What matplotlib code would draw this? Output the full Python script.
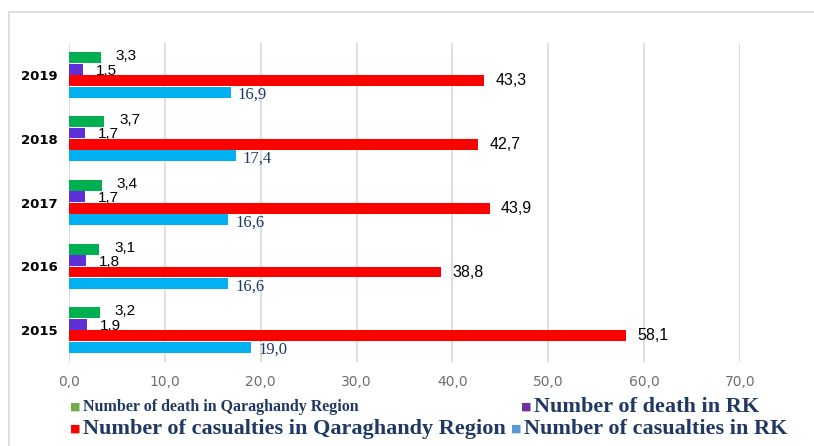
import matplotlib
matplotlib.use('Agg')
import matplotlib.pyplot as plt
from matplotlib.patches import Rectangle
import numpy as np

# data
years = ['2015', '2016', '2017', '2018', '2019']
death_region = [3.2, 3.1, 3.4, 3.7, 3.3]
death_rk = [1.9, 1.8, 1.7, 1.7, 1.5]
casualties_region = [58.1, 38.8, 43.9, 42.7, 43.3]
casualties_rk = [19.0, 16.6, 16.6, 17.4, 16.9]
xticks = [0, 10, 20, 30, 40, 50, 60, 70]


def fmt(v):
    return '{:.1f}'.format(v).replace('.', ',')


fig = plt.figure(figsize=(8.14, 4.46), dpi=100)
ax = fig.add_axes([69 / 814, 1 - 362 / 446, (740 - 69) / 814, 319 / 446])

y = np.arange(len(years))
h = 0.18
# values, bar colour, slot offset, label colour, label font, label size, label shift (pt)
series = [
    (death_region, '#00B050', 1.5, 'black', 'Liberation Sans', 11, (11, 1)),
    (death_rk, '#5F2FD8', 0.5, 'black', 'Liberation Sans', 11, (9, -1)),
    (casualties_region, '#FF0000', -0.5, 'black', 'Liberation Sans', 11.5, (8, 0)),
    (casualties_rk, '#00B0F0', -1.5, '#1F3864', 'Liberation Serif', 12, (5, -2)),
]
for vals, color, off, lcolor, lfont, lsize, shift in series:
    ypos = y + off * h
    ax.barh(ypos, vals, height=h * 0.95, color=color, zorder=3)
    for yy, v in zip(ypos, vals):
        ax.annotate(fmt(v), (v, yy), xytext=shift, textcoords='offset points',
                    va='center', ha='left', color=lcolor, family=lfont, fontsize=lsize)

ax.set_xlim(0, 70)
ax.set_ylim(-0.5, 4.5)
ax.set_xticks(xticks)
ax.set_xticklabels([fmt(t) for t in xticks], color='#6E6E6E', fontsize=10)
ax.set_yticks(y)
ax.set_yticklabels(years, fontweight='bold', fontsize=9.5)
ax.tick_params(axis='both', length=0)
ax.tick_params(axis='x', pad=9)
ax.tick_params(axis='y', pad=8)
ax.grid(axis='x', color='#D9D9D9', linewidth=1.2, zorder=0)
for s in ax.spines.values():
    s.set_visible(False)

# outer frame of the chart area
fig.add_artist(Rectangle((9 / 814, -0.1), 1.2, 1.1 - 12 / 446, transform=fig.transFigure,
                         fill=False, edgecolor='#D9D9D9', linewidth=1.2))

# legend built by hand, entries have different font sizes in the reference
navy = '#1F3864'
entries = [
    (75, 407, '#70AD47', 'Number of death in Qaraghandy Region', 11.5),
    (526, 407, '#7030A0', 'Number of death in RK', 16),
    (75, 429, '#FF0000', 'Number of casualties in Qaraghandy Region', 16),
    (516, 429, '#5B9BD5', 'Number of casualties in RK', 16),
]
for px, py, mcolor, label, size in entries:
    fig.text(px / 814, 1 - py / 446, '\u25A0', color=mcolor, fontsize=8,
             ha='center', va='center', family='DejaVu Sans')
    fig.text((px + 8) / 814, 1 - py / 446, label, color=navy, fontsize=size,
             fontweight='bold', family='Liberation Serif', ha='left', va='center')

fig.savefig('out.png', dpi=100)
